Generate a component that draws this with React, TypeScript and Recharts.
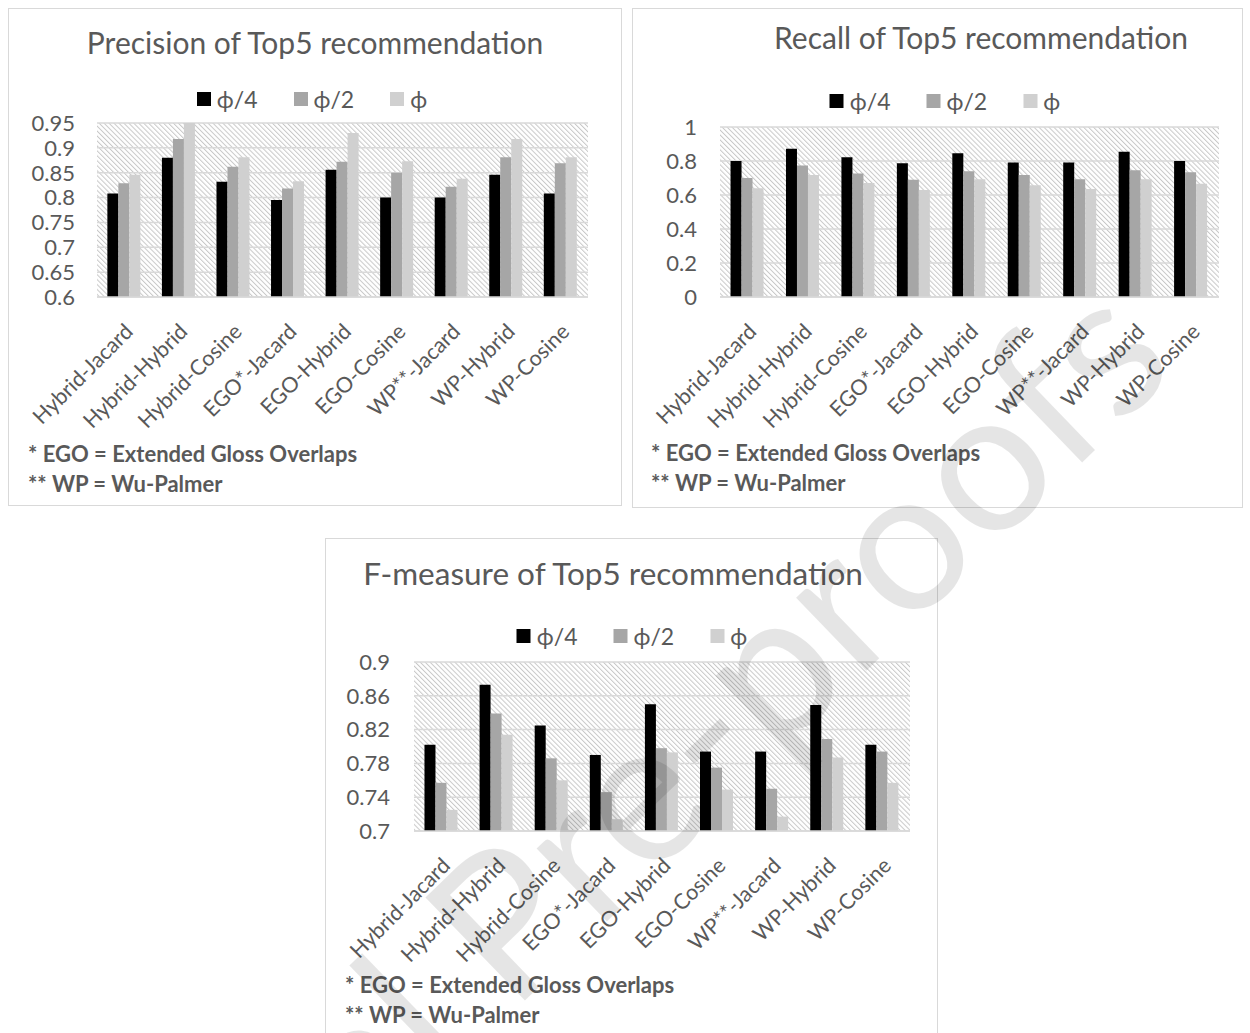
import React from 'react';
import { BarChart, Bar, XAxis, YAxis, CartesianGrid, Legend } from 'recharts';

const CATEGORIES = ['Hybrid-Jacard', 'Hybrid-Hybrid', 'Hybrid-Cosine', 'EGO*-Jacard', 'EGO-Hybrid', 'EGO-Cosine', 'WP**-Jacard', 'WP-Hybrid', 'WP-Cosine'];
const SERIES_NAMES = ['ϕ/4', 'ϕ/2', 'ϕ'];

const PRECISION_Q = [0.808, 0.880, 0.832, 0.795, 0.856, 0.800, 0.800, 0.846, 0.808];
const PRECISION_H = [0.829, 0.918, 0.862, 0.818, 0.872, 0.850, 0.822, 0.881, 0.869];
const PRECISION_F = [0.846, 0.950, 0.881, 0.833, 0.930, 0.873, 0.838, 0.918, 0.881];

const RECALL_Q = [0.800, 0.872, 0.822, 0.787, 0.846, 0.791, 0.791, 0.855, 0.800];
const RECALL_H = [0.700, 0.773, 0.727, 0.689, 0.740, 0.717, 0.693, 0.746, 0.734];
const RECALL_F = [0.640, 0.717, 0.670, 0.629, 0.693, 0.658, 0.635, 0.693, 0.666];

const FMEASURE_Q = [0.802, 0.873, 0.825, 0.790, 0.850, 0.794, 0.794, 0.849, 0.802];
const FMEASURE_H = [0.757, 0.839, 0.786, 0.746, 0.798, 0.775, 0.750, 0.809, 0.794];
const FMEASURE_F = [0.725, 0.814, 0.760, 0.714, 0.793, 0.749, 0.717, 0.787, 0.757];

const PRECISION_TICKS = [0.6, 0.65, 0.7, 0.75, 0.8, 0.85, 0.9, 0.95];
const RECALL_TICKS = [0, 0.2, 0.4, 0.6, 0.8, 1];
const FMEASURE_TICKS = [0.7, 0.74, 0.78, 0.82, 0.86, 0.9];

const FOOTNOTE_1 = '* EGO = Extended Gloss Overlaps';
const FOOTNOTE_2 = '** WP = Wu-Palmer';
const WATERMARK = 'Journal Pre-proofs';

const COLORS = ['#000000', '#a6a6a6', '#d0d0d0'];
const KEYS = ['q', 'h', 'f'];
const FONT = 'Lato, "Open Sans", sans-serif';
const TEXT = '#595959';

const buildData = (a: number[], b: number[], c: number[]) =>
  CATEGORIES.map((name, i) => ({ name, q: a[i], h: b[i], f: c[i] }));

const fmt = (v: number) => String(+v.toFixed(2));

const XTick = (props: any) => {
  const { x, y, payload } = props;
  return (
    <g transform={`translate(${x + 10},${y + 28}) rotate(-45)`}>
      <text x={0} y={0} textAnchor="end" fill={TEXT} fontSize={21.5} fontFamily={FONT}>
        {payload.value}
      </text>
    </g>
  );
};

type PanelProps = {
  id: string;
  box: { x: number; y: number; w: number; h: number };
  plot: { l: number; r: number; t: number; b: number };
  title: string;
  titleSize: number;
  titleCx: number;
  titleCy: number;
  legendCx: number;
  legendCy: number;
  labelRight: number;
  domain: [number, number];
  ticks: number[];
  data: any[];
  footY1: number;
  footY2: number;
  footX: number;
};

const Panel = (p: PanelProps) => {
  const ox = p.box.x + 1;
  const oy = p.box.y + 1;
  const cw = p.box.w - 2;
  const ch = p.box.h - 2;
  const YW = 60;
  const margin = {
    top: p.plot.t - oy,
    right: ox + cw - p.plot.r,
    bottom: 0,
    left: p.plot.l - ox - YW,
  };
  const xh = ch - (p.plot.b - oy);
  const legendShift = p.legendCx - (ox + cw / 2);
  const renderLegend = () => (
    <div
      style={{
        display: 'flex',
        justifyContent: 'center',
        transform: `translateX(${legendShift}px)`,
        fontFamily: FONT,
        fontSize: 23,
        color: TEXT,
        lineHeight: '26px',
      }}
    >
      {SERIES_NAMES.map((n, i) => (
        <div key={n} style={{ display: 'flex', alignItems: 'center', marginRight: i < 2 ? 36 : 0 }}>
          <span style={{ display: 'inline-block', width: 14, height: 14, background: COLORS[i], marginRight: 6 }} />
          <span>{n}</span>
        </div>
      ))}
    </div>
  );
  return (
    <div
      style={{
        position: 'absolute',
        left: p.box.x,
        top: p.box.y,
        width: p.box.w,
        height: p.box.h,
        border: '1px solid #d9d9d9',
        boxSizing: 'border-box',
        background: '#fff',
        overflow: 'hidden',
      }}
    >
      <div
        style={{
          position: 'absolute',
          left: p.titleCx - ox - 300,
          width: 600,
          top: p.titleCy - oy - 20,
          height: 40,
          lineHeight: '40px',
          textAlign: 'center',
          fontFamily: FONT,
          fontSize: p.titleSize,
          color: TEXT,
          whiteSpace: 'nowrap',
        }}
      >
        {p.title}
      </div>
      <div style={{ position: 'absolute', left: 0, top: 0 }}>
        <BarChart width={cw} height={ch} data={p.data} margin={margin} barCategoryGap="19%" barGap={0}>
          <defs>
            <pattern id={`hatch-${p.id}`} patternUnits="userSpaceOnUse" width={3.5} height={3.5} patternTransform="rotate(-45)">
              <rect x={0} y={0} width={3.5} height={3.5} fill="#ffffff" />
              <line x1={0.5} y1={0} x2={0.5} y2={3.5} stroke="#c8c8c8" strokeWidth={1} />
            </pattern>
          </defs>
          <CartesianGrid vertical={false} stroke="#d9d9d9" strokeWidth={1.5} fill={`url(#hatch-${p.id})`} />
          <XAxis
            dataKey="name"
            axisLine={{ stroke: '#d9d9d9', strokeWidth: 1.5 }}
            tickLine={false}
            interval={0}
            height={xh}
            tick={<XTick />}
          />
          <YAxis
            domain={p.domain}
            ticks={p.ticks}
            interval={0}
            allowDataOverflow
            axisLine={false}
            tickLine={false}
            tickSize={0}
            tickMargin={p.plot.l - p.labelRight}
            width={YW}
            tickFormatter={fmt}
            tick={{ fill: TEXT, fontSize: 22, fontFamily: FONT }}
          />
          <Legend
            verticalAlign="middle"
            align="center"
            layout="horizontal"
            wrapperStyle={{ left: 0, top: p.legendCy - oy - 13, width: cw }}
            content={renderLegend}
          />
          {KEYS.map((k, i) => (
            <Bar key={k} dataKey={k} name={SERIES_NAMES[i]} fill={COLORS[i]} isAnimationActive={false} />
          ))}
        </BarChart>
      </div>
      {[FOOTNOTE_1, FOOTNOTE_2].map((t, i) => (
        <div
          key={t}
          style={{
            position: 'absolute',
            left: p.footX - ox,
            top: (i === 0 ? p.footY1 : p.footY2) - oy - 14,
            height: 28,
            lineHeight: '28px',
            fontFamily: FONT,
            fontWeight: 700,
            fontSize: 22,
            color: TEXT,
            whiteSpace: 'nowrap',
          }}
        >
          {t}
        </div>
      ))}
    </div>
  );
};

export default function App() {
  return (
    <div style={{ position: 'absolute', left: 0, top: 0, width: 1250, height: 1033, overflow: 'hidden', background: '#fff' }}>
      <Panel
        id="p"
        box={{ x: 8, y: 8, w: 614, h: 498 }}
        plot={{ l: 97, r: 588, t: 123, b: 297 }}
        title="Precision of Top5 recommendation"
        titleSize={30}
        titleCx={315}
        titleCy={42}
        legendCx={312}
        legendCy={99}
        labelRight={75}
        domain={[0.6, 0.95]}
        ticks={PRECISION_TICKS}
        data={buildData(PRECISION_Q, PRECISION_H, PRECISION_F)}
        footX={28}
        footY1={454}
        footY2={484}
      />
      <Panel
        id="r"
        box={{ x: 632, y: 8, w: 611, h: 500 }}
        plot={{ l: 720, r: 1219, t: 127, b: 297 }}
        title="Recall of Top5 recommendation"
        titleSize={30}
        titleCx={981}
        titleCy={37}
        legendCx={945}
        legendCy={101}
        labelRight={697}
        domain={[0, 1]}
        ticks={RECALL_TICKS}
        data={buildData(RECALL_Q, RECALL_H, RECALL_F)}
        footX={651}
        footY1={453}
        footY2={483}
      />
      <Panel
        id="f"
        box={{ x: 325, y: 538, w: 613, h: 510 }}
        plot={{ l: 414, r: 910, t: 662, b: 831 }}
        title="F-measure of Top5 recommendation"
        titleSize={31.5}
        titleCx={613}
        titleCy={573}
        legendCx={632}
        legendCy={636}
        labelRight={390}
        domain={[0.7, 0.9]}
        ticks={FMEASURE_TICKS}
        data={buildData(FMEASURE_Q, FMEASURE_H, FMEASURE_F)}
        footX={345}
        footY1={985}
        footY2={1015}
      />
      <svg width={1250} height={1033} style={{ position: 'absolute', left: 0, top: 0, pointerEvents: 'none' }}>
        <text
          x={1180}
          y={368}
          textAnchor="end"
          transform="rotate(-44 1180 368)"
          fontSize={200}
          fontFamily={FONT}
          fill="#000"
          fillOpacity={0.1}
        >
          {WATERMARK}
        </text>
      </svg>
    </div>
  );
}
